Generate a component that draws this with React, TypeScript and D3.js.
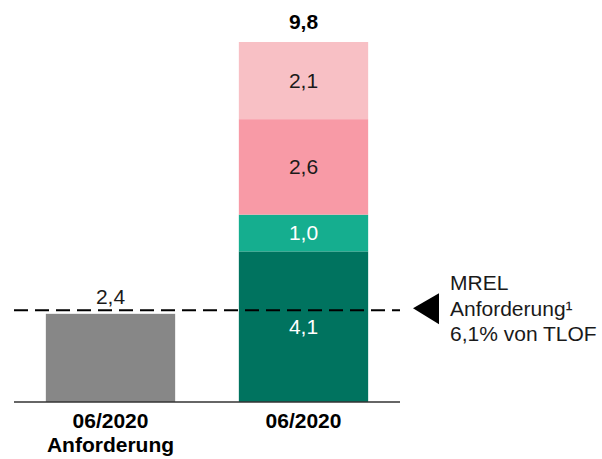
import React from "react";
import * as d3 from "d3";

// Categories on the x axis (multi-line labels)
const categories = ["req", "actual"];
const categoryLabels = [["06/2020", "Anforderung"], ["06/2020"]];

// Requirement bar
const requirementValue = 2.4;

// Stacked components of the actual bar (bottom to top)
const stackKeys = ["s1", "s2", "s3", "s4"];
const stackValues = [4.1, 1.0, 2.6, 2.1];
const stackColors = ["#00735F", "#15AE8F", "#F89AA6", "#F8C0C5"];
const stackTextColors = ["#ffffff", "#ffffff", "#1a1a1a", "#1a1a1a"];
const stackTotal = 9.8;

// MREL requirement line
const mrelValue = 2.5;
const mrelLines = ["MREL", "Anforderung¹", "6,1% von TLOF"];

const W = 602;
const H = 459;
const FONT = "'Liberation Sans', Arial, sans-serif";
const FS = 21;
const fmt = (v: number) => v.toFixed(1).replace(".", ",");

export default function App() {
  const x = d3
    .scaleBand<string>()
    .domain(categories)
    .range([14, 400])
    .paddingInner(0.33)
    .paddingOuter(0.165);
  const y = d3.scaleLinear().domain([0, stackTotal]).range([402, 42]);

  const stackRow: Record<string, number> = {};
  stackKeys.forEach((k, i) => (stackRow[k] = stackValues[i]));
  const series = d3.stack<Record<string, number>>().keys(stackKeys)([stackRow]);

  const xr = x("req")!;
  const xa = x("actual")!;
  const bw = x.bandwidth();
  const yMrel = y(mrelValue);

  return (
    <svg
      width={W}
      height={H}
      style={{ position: "absolute", left: 0, top: 0, background: "#fff" }}
      fontFamily={FONT}
    >
      {/* requirement bar */}
      <rect x={xr} y={y(requirementValue)} width={bw} height={y(0) - y(requirementValue)} fill="#878787" />
      <text x={xr + bw / 2} y={y(requirementValue) - 10} textAnchor="middle" fontSize={FS} fill="#1a1a1a">
        {fmt(requirementValue)}
      </text>

      {/* stacked bar */}
      {series.map((s, i) => {
        const [y0, y1] = s[0];
        return (
          <g key={s.key}>
            <rect x={xa} y={y(y1)} width={bw} height={y(y0) - y(y1)} fill={stackColors[i]} />
            <text
              x={xa + bw / 2}
              y={(y(y0) + y(y1)) / 2}
              dy="0.35em"
              textAnchor="middle"
              fontSize={FS}
              fill={stackTextColors[i]}
            >
              {fmt(stackValues[i])}
            </text>
          </g>
        );
      })}
      <text x={xa + bw / 2} y={y(stackTotal) - 13} textAnchor="middle" fontSize={FS} fontWeight="bold" fill="#000">
        {fmt(stackTotal)}
      </text>

      {/* MREL dashed line */}
      <line x1={14} x2={400} y1={yMrel} y2={yMrel} stroke="#000" strokeWidth={2} strokeDasharray="14,7" />
      <path d={`M413,${yMrel - 2} L439,${yMrel - 17} L439,${yMrel + 14} Z`} fill="#000" />
      {mrelLines.map((t, i) => (
        <text key={i} x={450} y={290 + i * 25.5} fontSize={FS} fill="#1a1a1a">
          {t}
        </text>
      ))}

      {/* baseline */}
      <line x1={14} x2={400} y1={y(0)} y2={y(0)} stroke="#333" strokeWidth={1.5} />

      {/* category labels */}
      {categories.map((c, i) =>
        categoryLabels[i].map((l, j) => (
          <text
            key={c + j}
            x={x(c)! + bw / 2}
            y={428 + j * 24}
            textAnchor="middle"
            fontSize={FS}
            fontWeight="bold"
            fill="#000"
          >
            {l}
          </text>
        ))
      )}
    </svg>
  );
}
